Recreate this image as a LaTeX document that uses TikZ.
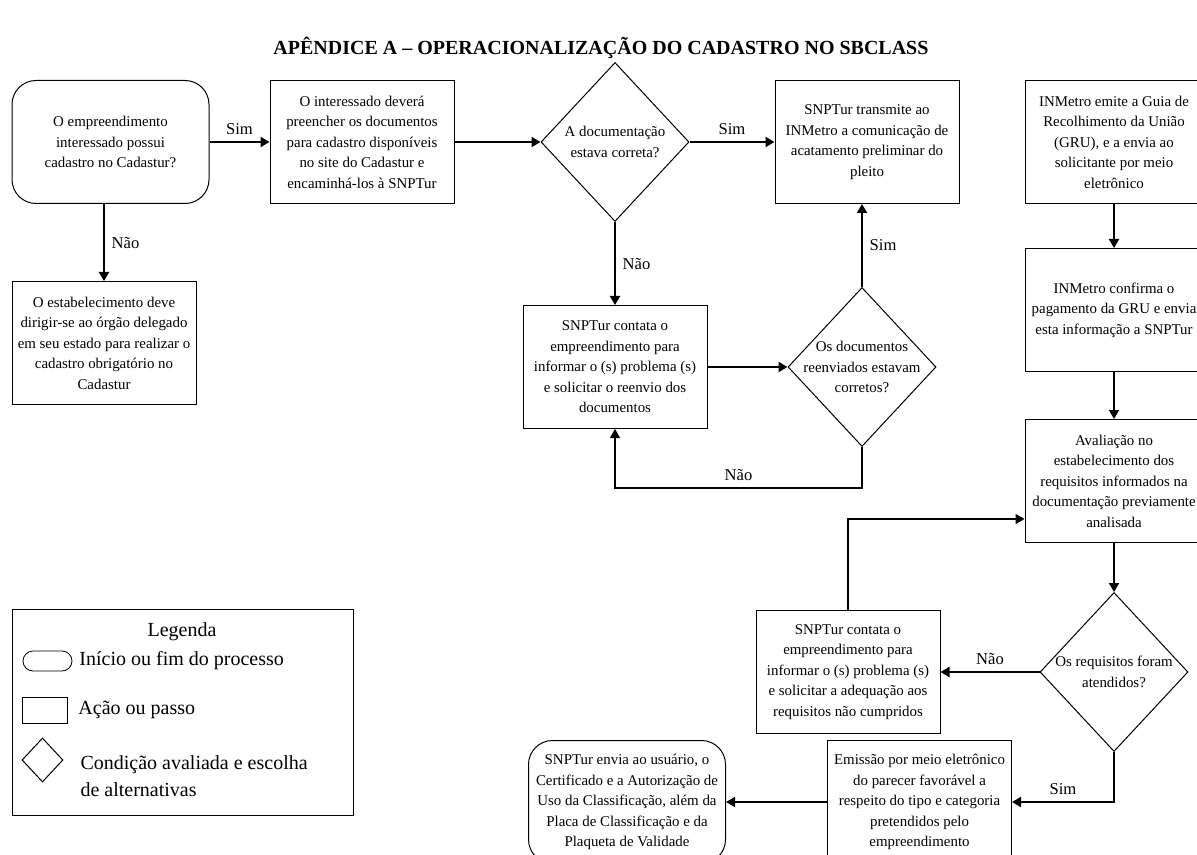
\documentclass[tikz,border=0pt]{standalone}
\usepackage{fontspec}
\setmainfont{Liberation Serif}
\usetikzlibrary{positioning}
\usetikzlibrary{shapes.geometric}
\usetikzlibrary{arrows.meta}
\usetikzlibrary{quotes}

\newcommand{\caixa}{\fontsize{7.45}{10.25}\selectfont}
\newcommand{\rotulo}{\fontsize{8.3}{10}\selectfont}
\newcommand{\legfonte}{\fontsize{10}{13.5}\selectfont}

\begin{document}
\begin{tikzpicture}
		[x=0.5pt, y=-0.5pt,
		passo/.style={rectangle, draw, line width=0.5pt, minimum width=92pt, minimum height=61.5pt, align=center, font=\caixa, inner sep=2pt},
		terminal/.style={passo, rounded corners=12pt, minimum width=98.5pt},
		decisao/.style={diamond, draw, line width=0.5pt, inner sep=0pt, minimum width=74pt, minimum height=79.5pt},
		texto/.style={align=center, font=\caixa},
		seta/.style={-{Triangle[length=4.5pt,width=5pt]}, line width=1pt},
		every edge quotes/.style={auto, font=\rotulo}]
		\useasboundingbox (0,0) rectangle (1197,855);
		\node[font=\bfseries\fontsize{10}{12}\selectfont] (titulo) at (601,48) {APÊNDICE A – OPERACIONALIZAÇÃO DO CADASTRO NO SBCLASS};

		\node[terminal] (inicio) at (110.5,142) {O empreendimento\\interessado possui\\cadastro no Cadastur?};
		\node[passo, right=30pt of inicio] (cadastrar) {O interessado deverá\\preencher os documentos\\para cadastro disponíveis\\no site do Cadastur e\\encaminhá-los à SNPTur};
		\node[passo, below=38.5pt of inicio.south west, anchor=north west] (orgao) {O estabelecimento deve\\dirigir-se ao órgão delegado\\em seu estado para realizar o\\cadastro obrigatório no\\Cadastur};
		\node[decisao, right=43pt of cadastrar, label={[texto]center:{A documentação\\estava correta?}}] (doc) {};
		\node[passo, right=42.5pt of doc] (transmite) {SNPTur transmite ao\\INMetro a comunicação de\\acatamento preliminar do\\pleito};
		\node[passo, minimum width=89pt, right=32.5pt of transmite] (emite) {INMetro emite a Guia de\\Recolhimento da União\\(GRU), e a envia ao\\solicitante por meio\\eletrônico};
		\node[passo, minimum width=89pt, below=22pt of emite] (confirma) {INMetro confirma o\\pagamento da GRU e envia\\esta informação a SNPTur};
		\node[passo, minimum width=89pt, below=23.5pt of confirma] (avaliacao) {Avaliação no\\estabelecimento dos\\requisitos informados na\\documentação previamente\\analisada};
		\node[decisao, below=24.5pt of avaliacao, label={[texto]center:{Os requisitos foram\\atendidos?}}] (requisitos) {};
		\node[passo, left=49.5pt of requisitos] (contata2) {SNPTur contata o\\empreendimento para\\informar o (s) problema (s)\\e solicitar a adequação aos\\requisitos não cumpridos};
		\node[passo, below=3pt of contata2, xshift=35.75pt] (emissao) {Emissão por meio eletrônico\\do parecer favorável a\\respeito do tipo e categoria\\pretendidos pelo\\empreendimento};
		\node[terminal, left=50.5pt of emissao] (envia) {SNPTur envia ao usuário, o\\Certificado e a Autorização de\\Uso da Classificação, além da\\Placa de Classificação e da\\Plaqueta de Validade};
		\node[passo, below=41.5pt of doc] (contata1) {SNPTur contata o\\empreendimento para\\informar o (s) problema (s)\\e solicitar o reenvio dos\\documentos};
		\node[decisao, right=40pt of contata1, label={[texto]center:{Os documentos\\reenviados estavam\\corretos?}}] (reenviados) {};

		\draw[seta] (inicio) to["Sim"] (cadastrar);
		\draw[seta] (orgao.north |- inicio.south) to["Não"] (orgao.north);
		\draw[seta] (cadastrar) -- (doc);
		\draw[seta] (doc) to["Sim"] (transmite);
		\draw[seta] (doc) to["Não"] (contata1);
		\draw[seta] (contata1) -- (reenviados);
		\draw[seta] (reenviados.north) to["Sim"'] (reenviados.north |- transmite.south);
		\draw[seta, line width=0.6pt] (reenviados.south) -- ++(0,41) -| node[pos=0.25, above, font=\rotulo] {Não} (contata1.south);
		\draw[seta] (emite) -- (confirma);
		\draw[seta] (confirma) -- (avaliacao);
		\draw[seta] (avaliacao) -- (requisitos);
		\draw[seta] (requisitos) to["Não"'] (contata2);
		\draw[seta, line width=0.6pt] (contata2.north) |- ([yshift=-19pt]avaliacao.west);
		\draw[seta] (requisitos.south) |- node[pos=0.75, above, font=\rotulo] {Sim} (emissao.east);
		\draw[seta] (emissao) -- (envia);

		% legenda
		\node[draw, line width=0.5pt, minimum width=170.5pt, minimum height=103pt] (legenda) at (182.5,712) {};
		\node[font=\legfonte] (legtitulo) at (182,632) {Legenda};
		\node[draw, rounded corners=5pt, minimum width=24.5pt, minimum height=10pt, inner sep=0pt] (legterm) at (47.5,661) {};
		\node[font=\legfonte, right=0pt of legterm] (legtermtxt) {Início ou fim do processo};
		\node[draw, minimum width=22.5pt, minimum height=13pt, inner sep=0pt] (legpasso) at (44.5,710) {};
		\node[font=\legfonte, right=2pt of legpasso] (legpassotxt) {Ação ou passo};
		\node[decisao, minimum width=20.5pt, minimum height=22pt] (legdec) at (42.5,760) {};
		\node[font=\legfonte, align=left, right=5pt of legdec, yshift=-8pt] (legdectxt) {Condição avaliada e escolha\\de alternativas};
	\end{tikzpicture}
\end{document}
